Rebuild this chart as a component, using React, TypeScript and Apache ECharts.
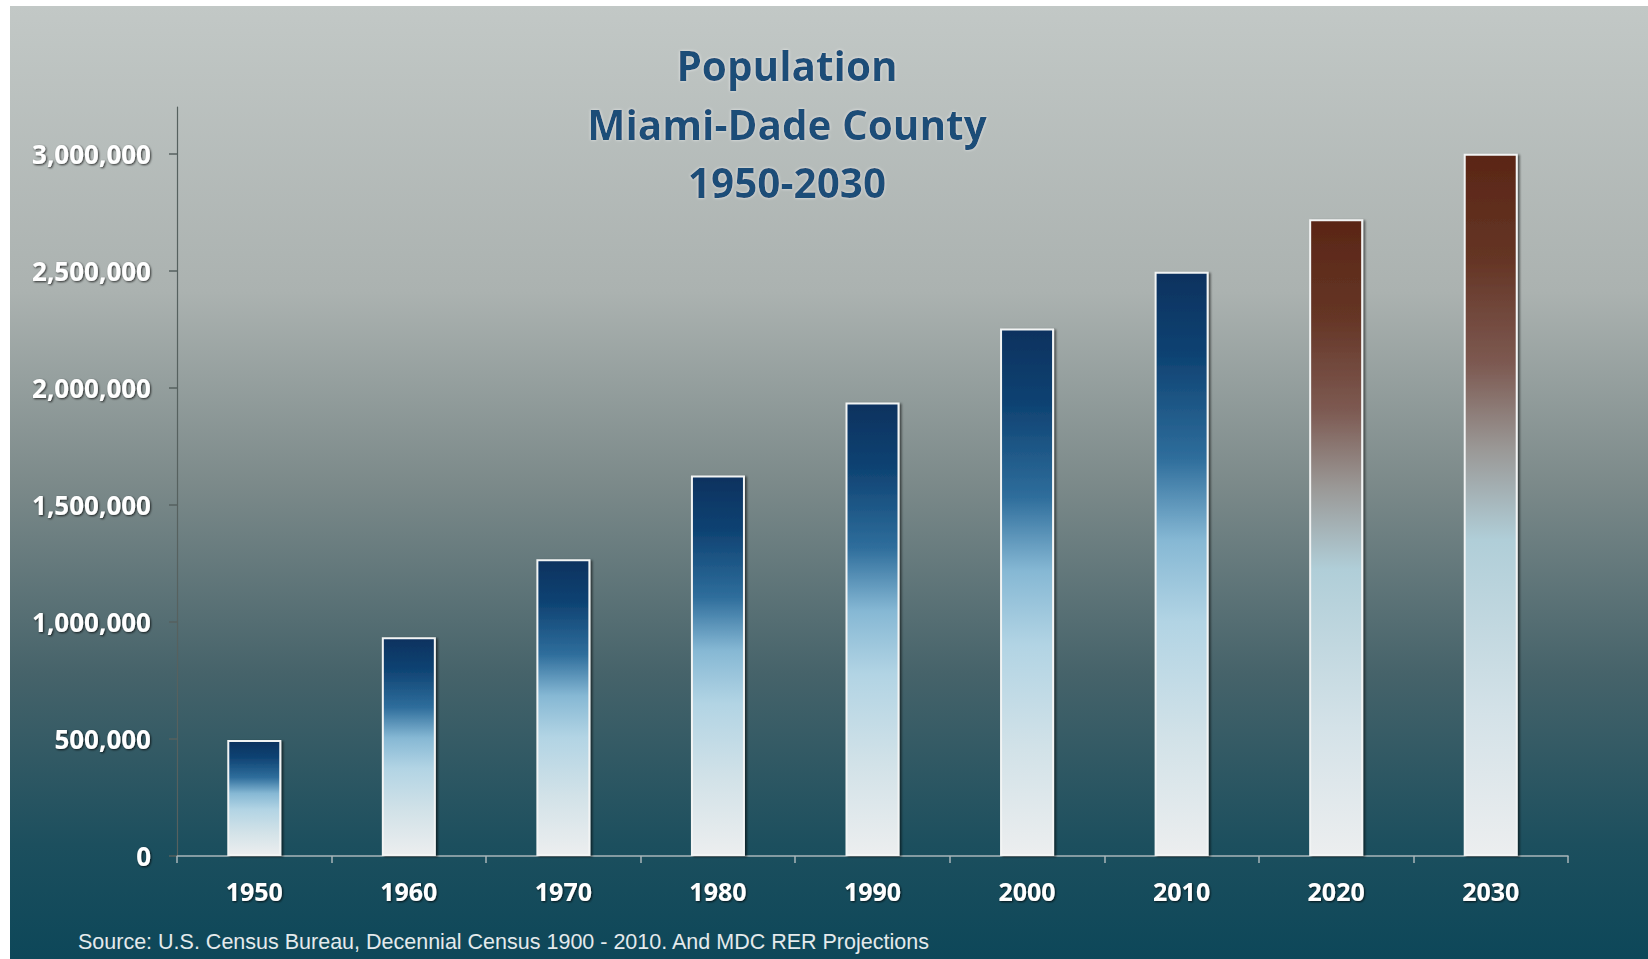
import React, { useEffect, useRef } from "react";
import * as echarts from "echarts";

const years = ["1950", "1960", "1970", "1980", "1990", "2000", "2010", "2020", "2030"];
const population = [495084, 935047, 1267792, 1625781, 1937094, 2253362, 2496435, 2720000, 3000000];
const projected = [false, false, false, false, false, false, false, true, true];
const yTicks = [0, 500000, 1000000, 1500000, 2000000, 2500000, 3000000];
const titleLines = ["Population", "Miami-Dade County", "1950-2030"];
const sourceText = "Source: U.S. Census Bureau, Decennial Census 1900 - 2010. And MDC RER Projections";

const blueGrad = () =>
  new echarts.graphic.LinearGradient(0, 0, 0, 1, [
    { offset: 0, color: "#0a325f" },
    { offset: 0.14, color: "#0e4272" },
    { offset: 0.32, color: "#2f6e9c" },
    { offset: 0.46, color: "#86b8d4" },
    { offset: 0.6, color: "#b2d4e4" },
    { offset: 0.8, color: "#d2e2e8" },
    { offset: 1, color: "#eceeef" },
  ]);

const brownGrad = () =>
  new echarts.graphic.LinearGradient(0, 0, 0, 1, [
    { offset: 0, color: "#5a2616" },
    { offset: 0.15, color: "#653525" },
    { offset: 0.3, color: "#7d5a52" },
    { offset: 0.42, color: "#9a9896" },
    { offset: 0.55, color: "#b0ced8" },
    { offset: 0.8, color: "#d4e2e8" },
    { offset: 1, color: "#eceeef" },
  ]);

const labelShadow = {
  textShadowColor: "rgba(0,0,0,0.75)",
  textShadowBlur: 2,
  textShadowOffsetX: 1,
  textShadowOffsetY: 1,
};

export default function App() {
  const ref = useRef<HTMLDivElement>(null);
  useEffect(() => {
    if (!ref.current) return;
    const chart = echarts.init(ref.current, undefined, { renderer: "svg" });
    const data = population.map((v, i) => ({
      value: v,
      itemStyle: { color: projected[i] ? brownGrad() : blueGrad() },
    }));
    chart.setOption({
      animation: false,
      graphic: [
        {
          type: "rect",
          z: -10,
          shape: { x: 10, y: 6, width: 1638, height: 953 },
          style: {
            fill: new echarts.graphic.LinearGradient(0, 0, 0, 1, [
              { offset: 0, color: "#c2c8c6" },
              { offset: 0.3, color: "#abb2b0" },
              { offset: 0.5, color: "#7c8a8a" },
              { offset: 0.7, color: "#46636a" },
              { offset: 0.88, color: "#1c4f5e" },
              { offset: 1, color: "#0d4759" },
            ]),
          },
        },
        ...titleLines.map((t, i) => ({
          type: "text",
          z: 10,
          x: 787,
          y: [65, 124, 182][i],
          style: {
            text: t,
            fill: "#1b4d78",
            font: "bold 40.5px 'Open Sans'",
            textAlign: "center",
            textVerticalAlign: "middle",
            textShadowColor: "rgba(255,255,255,0.7)",
            textShadowBlur: 3,
          },
        })),
        {
          type: "text",
          z: 10,
          x: 78,
          y: 942,
          style: {
            text: sourceText,
            fill: "#e4eaec",
            font: "21.5px 'Liberation Sans'",
            textAlign: "left",
            textVerticalAlign: "middle",
          },
        },
      ],
      grid: { left: 177, right: 80, top: 107, bottom: 103, containLabel: false },
      xAxis: {
        type: "category",
        data: years,
        axisLine: { lineStyle: { color: "#a9b6ba", width: 1.5 } },
        axisTick: { show: true, length: 7, lineStyle: { color: "#a9b6ba", width: 1.5 } },
        axisLabel: {
          color: "#ffffff",
          fontFamily: "Open Sans",
          fontWeight: "bold",
          fontSize: 25,
          margin: 22,
          ...labelShadow,
        },
      },
      yAxis: {
        type: "value",
        min: 0,
        max: 3200000,
        splitLine: { show: false },
        axisLine: { show: true, lineStyle: { color: "#56615f", width: 1.2 } },
        axisTick: {
          show: true,
          length: 8,
          customValues: yTicks,
          lineStyle: { color: "#56615f", width: 1.5 },
        },
        axisLabel: {
          customValues: yTicks,
          color: "#ffffff",
          fontFamily: "Open Sans",
          fontWeight: "bold",
          fontSize: 26,
          margin: 26,
          formatter: (v: number) => v.toLocaleString("en-US"),
          ...labelShadow,
        },
      },
      series: [
        {
          type: "bar",
          data,
          barWidth: 54,
          itemStyle: {
            borderColor: "#f2f4f4",
            borderWidth: 2,
            shadowColor: "rgba(0,0,0,0.55)",
            shadowBlur: 2,
            shadowOffsetX: 2,
            shadowOffsetY: 1,
          },
        },
      ],
    });
    return () => chart.dispose();
  }, []);
  return <div ref={ref} style={{ width: 1648, height: 959, position: "absolute", left: 0, top: 0 }} />;
}
